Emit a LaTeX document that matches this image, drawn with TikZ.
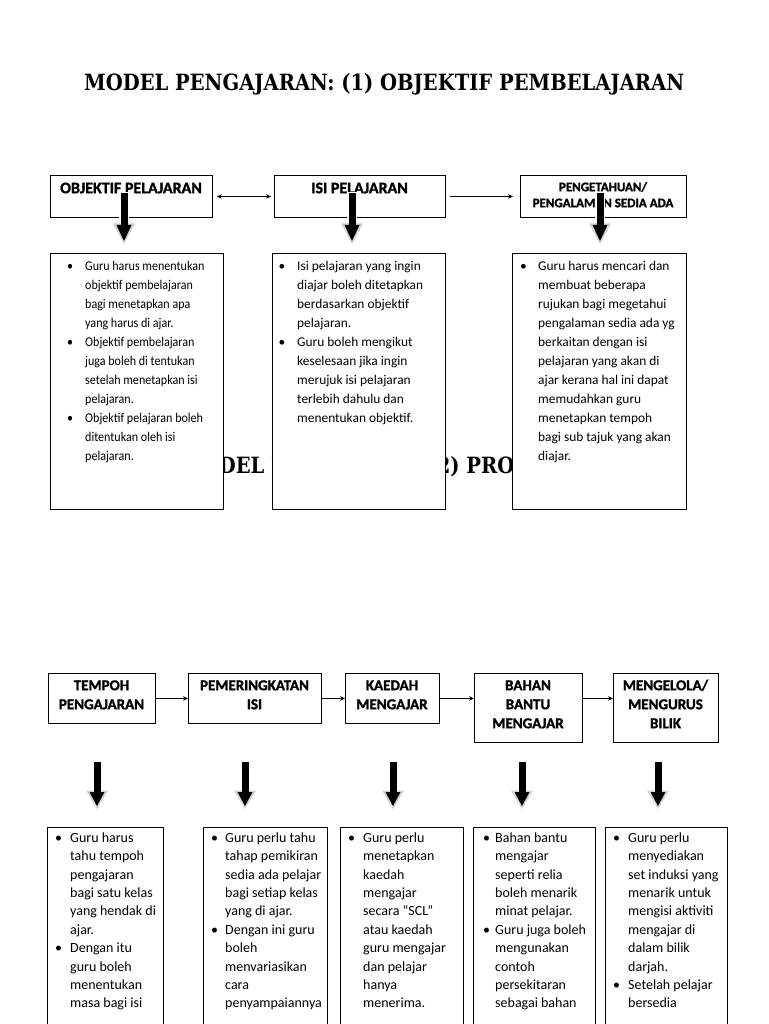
\documentclass[tikz,border=0pt]{standalone}
\usepackage{fontspec}
\usepackage{graphicx}
\usetikzlibrary{arrows.meta}
\newfontfamily\carl{Carlito}
\newfontfamily\carlc[FakeStretch=0.9]{Carlito}
\newfontfamily\carlh[BoldFeatures={FakeBold=1.5}]{Carlito}
\newfontfamily\ttlfont{DejaVu Serif}
\newcommand\bl[1]{\llap{\textbullet\hspace{#1}}}
\newcommand\mkbox[5]{\node[box, minimum width={(#4)-(#2)}, minimum height={(#5)-(#3)}] (#1) at (#2,#3) {};}
\newcommand\blockarrow[4]{%
  \fill[white] ({#1-4.7},{#2-1}) rectangle ({#1+4.7},#3);
  \fill[gray!35] ({#1-11},{#3-1.5}) -- ({#1+11},{#3-1.5}) -- (#1,{#4+2}) -- cycle;
  \fill[black] ({#1-7.5},#3) -- ({#1+7.5},#3) -- (#1,{#4-1}) -- cycle;
  \fill[black] ({#1-3.5},#2) rectangle ({#1+3.5},{#3+1});}
\newcommand\titleone{MODEL PENGAJARAN: (1) OBJEKTIF PEMBELAJARAN}
\tikzset{
  box/.style={draw, fill=white, line width=0.9pt, inner sep=0pt, anchor=north west},
  body/.style={anchor=north west, inner sep=0pt, align=left},
  ttl/.style={anchor=north, inner sep=0pt, align=center},
  toptitle/.style={ttl, font=\carlh\bfseries\fontsize{16}{19}\selectfont},
  bottitle/.style={ttl, font=\carlh\bfseries\fontsize{15}{19}\selectfont},
  bigtitle/.style={anchor=base west, inner sep=0pt, font=\ttlfont\bfseries\fontsize{20}{24}\selectfont},
  conn/.style={line width=0.7pt, -{Stealth[length=5pt,width=4.5pt]}},
  dconn/.style={line width=0.7pt, {Stealth[length=5pt,width=4.5pt]}-{Stealth[length=5pt,width=4.5pt]}},
}
\begin{document}
\begin{tikzpicture}[x=1pt,y=-1pt]
\useasboundingbox[fill=white] (0,0) rectangle (768,1024);

% titles
\node[bigtitle] (title1) at (84,91) {\resizebox{600pt}{17pt}{\titleone}};
\node[bigtitle] (title2) at (180,473) {\resizebox{600pt}{17pt}{\rlap{MODEL PENGAJARAN:\hspace{-10pt} (2) PROSES}\phantom{\titleone}}};

% top row boxes
\mkbox{A}{50}{175}{212}{217}
\mkbox{B}{274}{175}{445}{217}
\mkbox{C}{520}{175}{686}{217}
\mkbox{Ab}{50}{253}{223}{509}
\mkbox{Bb}{272}{253}{445}{509}
\mkbox{Cb}{512}{253}{686}{509}

\node[toptitle] (tA) at (131,180) {\rule{0pt}{13pt}OBJEKTIF PELAJARAN};
\node[toptitle] (tB) at (359.5,180) {\rule{0pt}{13pt}ISI PELAJARAN};
\node[ttl, font=\carlh\bfseries\fontsize{13}{16}\selectfont] (tC) at (603,180) {\rule{0pt}{11pt}PENGETAHUAN/\\PENGALAMAN SEDIA ADA};

\node[body, font=\carlc\fontsize{13.4}{19}\selectfont] (xA) at (85,258) {\rule{0pt}{12pt}\bl{12pt}Guru harus menentukan\\objektif pembelajaran\\bagi menetapkan apa\\yang harus di ajar.\\\bl{12pt}Objektif pembelajaran\\juga boleh di tentukan\\setelah menetapkan isi\\pelajaran.\\\bl{12pt}Objektif pelajaran boleh\\ditentukan oleh isi\\pelajaran.};
\node[body, font=\carl\fontsize{13.4}{19}\selectfont] (xB) at (297,258) {\rule{0pt}{12pt}\bl{12pt}Isi pelajaran yang ingin\\diajar boleh ditetapkan\\berdasarkan objektif\\pelajaran.\\\bl{12pt}Guru boleh mengikut\\keselesaan jika ingin\\merujuk isi pelajaran\\terlebih dahulu dan\\menentukan objektif.};
\node[body, font=\carl\fontsize{13.4}{19}\selectfont] (xC) at (538,258) {\rule{0pt}{12pt}\bl{11.5pt}Guru harus mencari dan\\membuat beberapa\\rujukan bagi megetahui\\pengalaman sedia ada yg\\berkaitan dengan isi\\pelajaran yang akan di\\ajar kerana hal ini dapat\\memudahkan guru\\menetapkan tempoh\\bagi sub tajuk yang akan\\diajar.};

\draw[dconn, shorten <=4pt, shorten >=3pt] (A.east) -- (B.west);
\draw[conn, shorten <=4pt, shorten >=7pt] (B.east) -- (C.west);

\blockarrow{124}{193}{225}{242}
\blockarrow{352}{193}{225}{242}
\blockarrow{600}{193}{225}{242}

% bottom row boxes
\mkbox{T1}{48}{673}{155}{723}
\mkbox{T2}{188}{673}{321}{723}
\mkbox{T3}{345}{673}{439}{723}
\mkbox{T4}{474}{673}{582}{742}
\mkbox{T5}{613}{673}{718}{742}

\node[bottitle] (t1) at (101.5,678) {\rule{0pt}{12pt}TEMPOH\\PENGAJARAN};
\node[bottitle] (t2) at (254.5,678) {\rule{0pt}{12pt}PEMERINGKATAN\\ISI};
\node[bottitle] (t3) at (392,678) {\rule{0pt}{12pt}KAEDAH\\MENGAJAR};
\node[bottitle] (t4) at (528,678) {\rule{0pt}{12pt}BAHAN\\BANTU\\MENGAJAR};
\node[bottitle] (t5) at (665.5,678) {\rule{0pt}{12pt}MENGELOLA/\\MENGURUS\\BILIK};

\draw[conn] (T1.east) -- (T2.west);
\draw[conn] (T2.east) -- (T3.west);
\draw[conn] (T3.east) -- (T3.east -| T4.west);
\draw[conn] (T4.east |- T3.east) -- (T5.west |- T3.east);

\blockarrow{97}{762}{792}{807}
\blockarrow{245}{762}{792}{807}
\blockarrow{393}{762}{792}{807}
\blockarrow{522}{762}{792}{807}
\blockarrow{658}{762}{792}{807}

\mkbox{b1}{47}{827}{163}{1040}
\mkbox{b2}{203}{827}{327}{1040}
\mkbox{b3}{340}{827}{463}{1040}
\mkbox{b4}{473}{827}{595}{1040}
\mkbox{b5}{605}{827}{727}{1040}

\node[body, font=\carl\fontsize{14}{18.4}\selectfont] (x1) at (70,830) {\rule{0pt}{12pt}\bl{8pt}Guru harus\\tahu tempoh\\pengajaran\\bagi satu kelas\\yang hendak di\\ajar.\\\bl{8pt}Dengan itu\\guru boleh\\menentukan\\masa bagi isi};
\node[body, font=\carl\fontsize{14}{18.4}\selectfont] (x2) at (225,830) {\rule{0pt}{12pt}\bl{7pt}Guru perlu tahu\\tahap pemikiran\\sedia ada pelajar\\bagi setiap kelas\\yang di ajar.\\\bl{7pt}Dengan ini guru\\boleh\\menvariasikan\\cara\\penyampaiannya};
\node[body, font=\carl\fontsize{14}{18.4}\selectfont] (x3) at (363,830) {\rule{0pt}{12pt}\bl{8pt}Guru perlu\\menetapkan\\kaedah\\mengajar\\secara “SCL”\\atau kaedah\\guru mengajar\\dan pelajar\\hanya\\menerima.};
\node[body, font=\carl\fontsize{14}{18.4}\selectfont] (x4) at (495,830) {\rule{0pt}{12pt}\bl{5pt}Bahan bantu\\mengajar\\seperti relia\\boleh menarik\\minat pelajar.\\\bl{5pt}Guru juga boleh\\mengunakan\\contoh\\persekitaran\\sebagai bahan};
\node[body, font=\carl\fontsize{14}{18.4}\selectfont] (x5) at (628,830) {\rule{0pt}{12pt}\bl{8pt}Guru perlu\\menyediakan\\set induksi yang\\menarik untuk\\mengisi aktiviti\\mengajar di\\dalam bilik\\darjah.\\\bl{8pt}Setelah pelajar\\bersedia};
\end{tikzpicture}
\end{document}
